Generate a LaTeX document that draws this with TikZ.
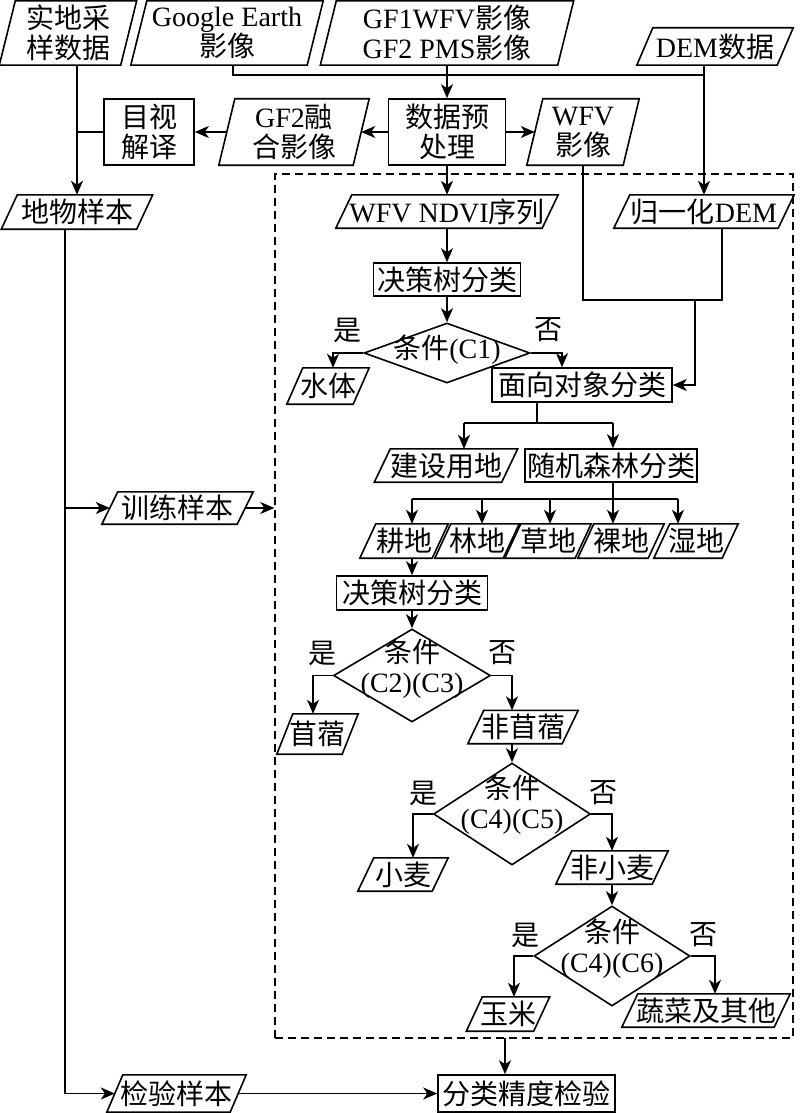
\documentclass[tikz,border=0pt]{standalone}
\usepackage{fontspec}
\setmainfont{Liberation Serif}
\newfontfamily\cjk{Noto Sans CJK SC}
\usetikzlibrary{arrows.meta,shapes.geometric,calc}
\newcommand\zhx[1]{{\cjk #1}}
\begin{document}
\begin{tikzpicture}[x=1pt,y=-1pt,
  every node/.style={font=\fontsize{28}{30}\selectfont, inner sep=0pt, align=center},
  sz/.style 2 args={minimum width=#1pt, minimum height=#2pt},
  line/.style={line width=1.6pt},
  arr/.style={line, -{Stealth[length=14pt,width=12pt,inset=4pt]}},
  box/.style={draw, line width=1.6pt, rectangle},
  para/.style={rectangle},
  dia/.style={draw, line width=1.6pt, diamond},
  frm/.style={draw, line width=1.4pt, dash pattern=on 8pt off 5pt}
]
\useasboundingbox (0,0) rectangle (800,1113);

% top row
\node[para,sz={121}{64}] (sd) at (68,33) {\zhx{实地采}\\\zhx{样数据}};
\node[para,sz={176}{64}] (ge) at (227,33) {Google Earth\\\zhx{影像}};
\node[para,sz={237}{64}] (gf) at (447,33) {GF1WFV\zhx{影像}\\GF2 PMS\zhx{影像}};
\node[para,sz={140}{37}] (dem) at (715,46.5) {DEM\zhx{数据}};
% second row
\node[box,sz={90}{66}] (mj) at (149,132) {\zhx{目视}\\\zhx{解译}};
\node[para,sz={134}{66}] (gf2) at (294,132) {GF2\zhx{融}\\\zhx{合影像}};
\node[box,sz={117}{66}] (yc) at (447,132) {\zhx{数据预}\\\zhx{处理}};
\node[para,sz={96}{66}] (wfv) at (583,132) {WFV\\\zhx{影像}};
\node[para,sz={135}{34}] (dw) at (77,212) {\zhx{地物样本}};

% dashed frame
\node[frm,sz={518}{864}] (frame) at (534,606) {};

\node[para,sz={206}{33}] (ndvi) at (447,211.5) {WFV NDVI\zhx{序列}};
\node[para,sz={164}{33}] (gdem) at (704,211.5) {\zhx{归一化}DEM};
\node[box,sz={147}{33}] (jc1) at (447,279.5) {\zhx{决策树分类}};
\node[dia,sz={166}{60}] (d1) at (447,353) {};
\node at (447,350) {\zhx{条件}(C1)};
\node[para,sz={66}{36}] (st) at (328,386) {\zhx{水体}};
\node[box,sz={180}{34}] (mx) at (582,385) {\zhx{面向对象分类}};
\node[para,sz={127}{33}] (js) at (446,465.5) {\zhx{建设用地}};
\node[box,sz={172}{33}] (sj) at (611,465.5) {\zhx{随机森林分类}};
\node[para,sz={72}{34}] (gd) at (404,541) {\zhx{耕地}};
\node[para,sz={68}{34}] (ld) at (477,541) {\zhx{林地}};
\node[para,sz={70}{34}] (cd) at (548,541) {\zhx{草地}};
\node[para,sz={70}{34}] (lu) at (621,541) {\zhx{裸地}};
\node[para,sz={68}{34}] (sd2) at (696,541) {\zhx{湿地}};
\node[box,sz={151}{34}] (jc2) at (412,593) {\zhx{决策树分类}};
\node[dia,sz={157}{93}] (d2) at (412,675.5) {};
\node at (412,669) {\zhx{条件}\\(C2)(C3)};
\node[para,sz={65}{40}] (mx2) at (317.5,734) {\zhx{苜蓿}};
\node[para,sz={94}{33}] (fmx) at (523,727) {\zhx{非苜蓿}};
\node[dia,sz={157}{102}] (d3) at (512,814) {};
\node at (512,805) {\zhx{条件}\\(C4)(C5)};
\node[para,sz={74}{33}] (xm) at (403,874.5) {\zhx{小麦}};
\node[para,sz={96}{33}] (fxm) at (612,867.5) {\zhx{非小麦}};
\node[dia,sz={156}{100}] (d4) at (612,956) {};
\node at (612,949) {\zhx{条件}\\(C4)(C6)};
\node[para,sz={67}{34}] (ym) at (508,1014) {\zhx{玉米}};
\node[para,sz={152}{33}] (sc) at (706,1010.5) {\zhx{蔬菜及其他}};

% left column
\node[para,sz={135}{32}] (xl) at (177.5,508) {\zhx{训练样本}};
\node[para,sz={123}{37}] (jy) at (176.5,1093.5) {\zhx{检验样本}};
\node[box,sz={177}{37}] (fl) at (526.5,1093.5) {\zhx{分类精度检验}};

% yes / no labels
\node (y1) at (347,330) {\zhx{是}};
\node (n1) at (548,330) {\zhx{否}};
\node (y2) at (322,653) {\zhx{是}};
\node (n2) at (502,653) {\zhx{否}};
\node (y3) at (423,793) {\zhx{是}};
\node (n3) at (603,793) {\zhx{否}};
\node (y4) at (525,935) {\zhx{是}};
\node (n4) at (703,935) {\zhx{否}};

% parallelogram outlines
\foreach \n in {sd,ge,gf,dem,gf2,wfv,dw,ndvi,gdem,st,js,gd,ld,cd,lu,sd2,mx2,fmx,xm,fxm,ym,sc,xl,jy}
  \draw[line, line join=miter] ([xshift=8pt]\n.north west) -- ([xshift=8pt]\n.north east)
     -- ([xshift=-8pt]\n.south east) -- ([xshift=-8pt]\n.south west) -- cycle;

% connectors, top part
\coordinate (ge1) at ($(ge.south)+(6,0)$);
\coordinate (bus) at (704,75);
\draw[line] (ge1) |- (bus);
\draw[arr] (gf.south) -- (yc.north);
\draw[arr] (dem.south -| gdem.north) -- (gdem.north);
\draw[arr] (yc.west) -- (gf2.east);
\draw[arr] (gf2.west) -- (mj.east);
\draw[arr] (yc.east) -- (wfv.west);
\draw[arr] (sd.south -| dw.north) -- (dw.north);
\draw[line] (mj.west) -- (mj.west -| dw.north);

% inside frame
\draw[arr] (yc.south) -- (ndvi.north);
\draw[arr] (ndvi.south) -- (jc1.north);
\draw[arr] (jc1.south) -- (d1.north);
\draw[arr] (d1.west) -| ($(st.north)+(5,0)$);
\draw[arr] (d1.east) -| ($(mx.north)+(-20,0)$);
\coordinate (w2) at (722,300);
\coordinate (j1) at (695,300);
\draw[line] (wfv.south) |- (w2) -- ($(gdem.south)+(18,0)$);
\draw[arr] (j1) |- (mx.east);

\coordinate (m1) at (537,423);
\coordinate (b1l) at (464,423);
\coordinate (b1r) at (613,423);
\draw[line] (m1 |- mx.south) -- (m1);
\draw[line] (b1l) -- (b1r);
\draw[arr] (b1l) -- (b1l |- js.north);
\draw[arr] (b1r) -- (b1r |- sj.north);

\coordinate (m2) at (613,499);
\coordinate (b2l) at (412,499);
\coordinate (b2r) at (678,499);
\draw[line] (m2 |- sj.south) -- (m2);
\draw[line] (b2l) -- (b2r);
\foreach \x/\n in {412/gd,482/ld,550/cd,613/lu,678/sd2}{
  \coordinate (t) at (\x,499);
  \draw[arr] (t) -- (t |- \n.north);
}

\draw[arr] (jc2.north |- gd.south) -- (jc2.north);
\draw[arr] (jc2.south) -- (d2.north);
\draw[arr] (d2.west) -| ($(mx2.north)+(-4.5,0)$);
\draw[arr] (d2.east) -| ($(fmx.north)+(-11,0)$);
\draw[arr] (d3.north |- fmx.south) -- (d3.north);
\draw[arr] (d3.west) -| ($(xm.north)+(10,0)$);
\draw[arr] (d3.east) -| (fxm.north);
\draw[arr] (d4.north |- fxm.south) -- (d4.north);
\draw[arr] (d4.west) -| ($(ym.north)+(6,0)$);
\draw[arr] (d4.east) -| ($(sc.north)+(9,0)$);

% bottom and left
\coordinate (fa) at (505,1038);
\draw[arr] (fa) -- (fa |- fl.north);
\coordinate (c1) at (65,229);
\draw[arr] (c1 |- dw.south) |- (jy.west);
\draw[arr] (c1 |- xl.west) -- (xl.west);
\draw[arr] (xl.east) -- (xl.east -| frame.west);
\draw[arr] (jy.east) -- (fl.west);
\end{tikzpicture}
\end{document}
